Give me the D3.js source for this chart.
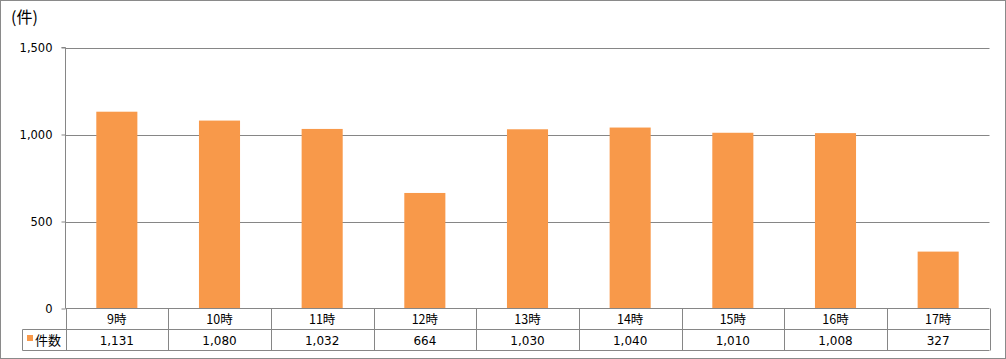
<!DOCTYPE html>
<html><head><meta charset="utf-8">
<script src="https://cdn.jsdelivr.net/npm/d3@7"></script>
<style>
html,body{margin:0;padding:0;background:#fff;}
svg text{font-family:"Noto Sans CJK JP","DejaVu Sans",sans-serif;}
</style></head>
<body>
<svg id="c" width="1006" height="359"></svg>
<script>
const categories = ["9時","10時","11時","12時","13時","14時","15時","16時","17時"];
const values = [1131,1080,1032,664,1030,1040,1010,1008,327];
const seriesName = "件数";
const yTicks = [0,500,1000,1500];
const unitLabel = "(件)";

const W = 1006, H = 359;
const pLeft = 65.5, pRight = 989.5, pTop = 47.5, pBottom = 308.5;
const row1 = 329.5, row2 = 350.5, legendLeft = 22.5;
const grid = "#868686", barColor = "#f8994a";

const svg = d3.select("#c");
svg.append("rect").attr("x",0.5).attr("y",0.5).attr("width",W-1).attr("height",H-1)
  .attr("fill","#fff").attr("stroke","#8a8a8a").attr("stroke-width",1);

const x = d3.scaleBand().domain(categories).range([pLeft,pRight]).paddingInner(0.6).paddingOuter(0.3);
const xb = d3.scaleBand().domain(categories).range([pLeft,pRight]);
const y = d3.scaleLinear().domain([0,1500]).range([pBottom,pTop]);

// gridlines
svg.append("g").selectAll("line").data(yTicks.filter(d=>d>0)).join("line")
  .attr("x1",pLeft).attr("x2",pRight).attr("y1",d=>Math.round(y(d))+0.5).attr("y2",d=>Math.round(y(d))+0.5)
  .attr("stroke",grid);

// bars
svg.append("g").selectAll("rect").data(values).join("rect")
  .attr("x",(d,i)=>x(categories[i])).attr("width",x.bandwidth())
  .attr("y",d=>y(d)).attr("height",d=>pBottom-y(d))
  .attr("fill",barColor);

// y axis
const yAxis = d3.axisLeft(y).tickValues(yTicks).tickSize(4).tickPadding(8)
  .tickFormat(d3.format(","));
const ga = svg.append("g").attr("transform",`translate(${pLeft},0)`).call(yAxis);
ga.select(".domain").attr("stroke",grid).attr("d",`M-4,${pTop}H0V${pBottom}`);
ga.selectAll(".tick line").attr("stroke",grid);
ga.selectAll(".tick text").attr("fill","#000").style("font-size","11.5px")
  .style("font-family","'DejaVu Sans',sans-serif").attr("dx",-1);

svg.append("text").attr("x",11).attr("y",23).text(unitLabel)
  .style("font-size","16px").attr("fill","#000");

// data table
const t = svg.append("g").attr("stroke",grid).attr("fill","none");
t.append("line").attr("x1",pLeft).attr("x2",pRight).attr("y1",pBottom).attr("y2",pBottom);
t.append("line").attr("x1",legendLeft).attr("x2",pRight).attr("y1",row1).attr("y2",row1);
t.append("line").attr("x1",legendLeft).attr("x2",pRight).attr("y1",row2).attr("y2",row2);
t.append("line").attr("x1",legendLeft).attr("x2",legendLeft).attr("y1",row1).attr("y2",row2);
const cols = categories.map(c=>xb(c)).concat([pRight]);
t.selectAll(".v").data(cols).join("line").attr("class","v")
  .attr("x1",d=>Math.round(d)+0.5).attr("x2",d=>Math.round(d)+0.5)
  .attr("y1",pBottom).attr("y2",row2);

svg.append("g").selectAll("text").data(categories).join("text")
  .attr("x",d=>xb(d)+xb.bandwidth()/2).attr("y",(pBottom+row1)/2+4.5)
  .attr("text-anchor","middle").style("font-size","12.5px").attr("fill","#000").text(d=>d);
svg.append("g").selectAll("text").data(values).join("text")
  .attr("x",(d,i)=>xb(categories[i])+xb.bandwidth()/2).attr("y",(row1+row2)/2+4.5)
  .attr("text-anchor","middle").style("font-size","12px").style("font-family","'DejaVu Sans',sans-serif")
  .attr("fill","#000").text(d=>d3.format(",")(d));

svg.append("rect").attr("x",27).attr("y",335).attr("width",6).attr("height",6).attr("fill",barColor);
svg.append("text").attr("x",35).attr("y",(row1+row2)/2+5).style("font-size","13px")
  .attr("fill","#000").text(seriesName);
</script>
</body></html>
